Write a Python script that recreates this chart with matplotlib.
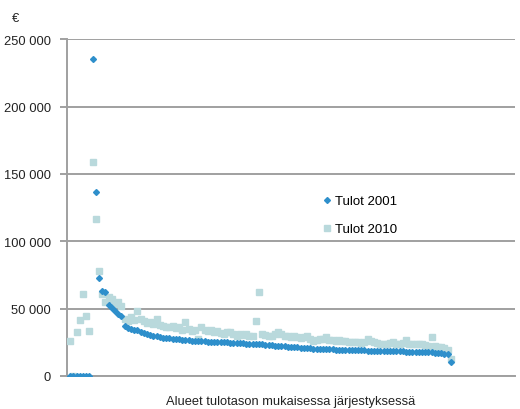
import numpy as np
import matplotlib.pyplot as plt
from matplotlib.ticker import FuncFormatter

plt.rcParams['font.family'] = ['Liberation Sans', 'DejaVu Sans']

# Tulot alueittain (euroa), alueet järjestetty vuoden 2001 tulojen mukaan
tulot_2001 = [
    0, 0, 0, 0, 0, 0, 0, 235000, 136500, 73000,
    63000, 62500, 53000, 50500, 48000, 46000, 44500, 37000, 35500, 35000,
    34500, 34000, 33000, 32000, 31000, 30500, 30000, 29500, 29000, 28500,
    28200, 28000, 27700, 27500, 27300, 27000, 26800, 26600, 26300, 26100,
    26000, 25800, 25700, 25500, 25400, 25300, 25200, 25100, 25000, 24900,
    24700, 24600, 24500, 24300, 24200, 24000, 23900, 23800, 23700, 23600,
    23400, 23200, 23000, 22800, 22600, 22400, 22200, 22000, 21800, 21600,
    21400, 21300, 21100, 20900, 20700, 20500, 20400, 20200, 20100, 19900,
    19800, 19700, 19700, 19600, 19500, 19500, 19400, 19300, 19300, 19200,
    19100, 19000, 19000, 18900, 18800, 18700, 18700, 18600, 18500, 18500,
    18400, 18300, 18300, 18200, 18200, 18100, 18000, 17900, 17900, 17800,
    17800, 17700, 17600, 17500, 17300, 17100, 16900, 16600, 16300, 10400,
]
tulot_2010 = [
    26000, 0, 32600, 41500, 60800, 44500, 33400, 158800, 116500, 78000,
    60800, 55000, 58600, 57000, 53400, 55000, 52000, 42300, 41000, 43800,
    41500, 48000, 42000, 40800, 39500, 40000, 38500, 42300, 38000, 37000,
    36500, 36000, 37000, 35500, 36000, 34500, 40000, 35000, 33400, 34000,
    27500, 36000, 34500, 33400, 34000, 33000, 33400, 32000, 31000, 32500,
    33000, 31500, 29700, 31000, 30500, 31500, 30000, 29700, 40800, 62300,
    31000, 30500, 29700, 30000, 31500, 32600, 31000, 30000, 29700, 29000,
    29500, 29000, 28500, 29000, 29700, 27500, 26000, 27000, 27500, 27500,
    29000, 27000, 26500, 26000, 26500, 26000, 26000, 25500, 25200, 25000,
    25200, 24500, 25500, 27500, 26000, 25000, 24500, 24000, 24000, 23700,
    24500, 25000, 24000, 23500, 24500, 26700, 24000, 23500, 23700, 24000,
    24000, 23000, 22500, 29000, 22000, 21500, 21500, 20500, 19000, 12600,
]
alueet = np.arange(1, len(tulot_2001) + 1)

fig = plt.figure(figsize=(5.2, 4.1), dpi=100)
ax = fig.add_axes([0.129, 0.0805, 0.861, 0.8215])

s10, = ax.plot(alueet, tulot_2010, linestyle='none', marker='s', markersize=4.6,
               color='#b9d9dc', label='Tulot 2010', zorder=3)
s01, = ax.plot(alueet, tulot_2001, linestyle='none', marker='D', markersize=3.0,
               color='#2e8fcb', label='Tulot 2001', zorder=4)

ax.set_xlim(0, 140)
ax.set_ylim(0, 250000)
ax.set_yticks(np.arange(0, 250001, 50000))
ax.yaxis.set_major_formatter(FuncFormatter(lambda v, p: f'{int(v):,}'.replace(',', ' ')))
ax.set_xticks([])
ax.grid(axis='y', color='#a0a0a0', linewidth=1.4)
ax.set_axisbelow(True)
for side in ['top', 'right']:
    ax.spines[side].set_visible(False)
for side in ['left', 'bottom']:
    ax.spines[side].set_color('#a0a0a0')
    ax.spines[side].set_linewidth(1.4)
ax.tick_params(axis='y', length=5, width=1.4, color='#a0a0a0', labelsize=9.3,
               labelcolor='#222222', pad=6.5)

ax.set_xlabel('Alueet tulotason mukaisessa järjestyksessä', fontsize=9.3,
              color='#222222', labelpad=14)
fig.text(0.029, 0.953, '€', fontsize=9.3, color='#222222', ha='center', va='center')

ax.legend(handles=[s01, s10], loc='center left', bbox_to_anchor=(0.54, 0.477),
          frameon=False, fontsize=9.5, handletextpad=0.05, handlelength=1.0,
          labelspacing=1.2)

fig.savefig('out.png', dpi=100)
